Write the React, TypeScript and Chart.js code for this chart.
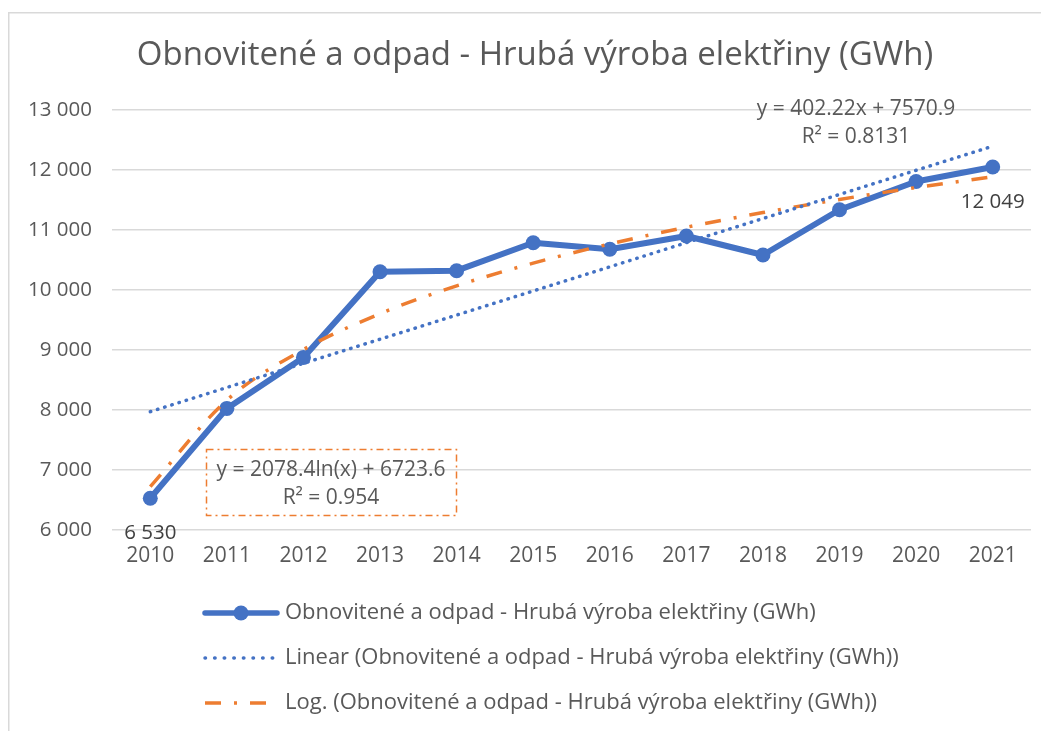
import { useEffect, useRef } from "react";
import { Chart, registerables } from "chart.js";

Chart.register(...registerables);

const years = ["2010", "2011", "2012", "2013", "2014", "2015", "2016", "2017", "2018", "2019", "2020", "2021"];
const production = [6530, 8027, 8877, 10305, 10322, 10788, 10678, 10900, 10583, 11337, 11808, 12049];
const linearTrend = [7973.1, 8375.3, 8777.6, 9179.8, 9582.0, 9984.2, 10386.4, 10788.7, 11190.9, 11593.1, 11995.3, 12397.5];
const logTrend = [6723.6, 8164.2, 9007.0, 9604.9, 10068.7, 10447.6, 10768.0, 11045.5, 11290.3, 11509.3, 11707.4, 11888.2];
const yMin = 6000;
const yMax = 13000;
const yStep = 1000;

const seriesName = "Obnovitené a odpad - Hrubá výroba elektřiny (GWh)";
const titleText = "Obnovitené a odpad - Hrubá výroba elektřiny (GWh)";
const legendLabels = [
  "Obnovitené a odpad - Hrubá výroba elektřiny (GWh)",
  "Linear (Obnovitené a odpad - Hrubá výroba elektřiny (GWh))",
  "Log. (Obnovitené a odpad - Hrubá výroba elektřiny (GWh))",
];
const linearEquation = ["y = 402.22x + 7570.9", "R² = 0.8131"];
const logEquation = ["y = 2078.4ln(x) + 6723.6", "R² = 0.954"];
const labeledPoints = [0, 11];

const BLUE = "#4472C4";
const ORANGE = "#ED7D31";
const TEXT = "#595959";
const GRID = "#D9D9D9";
const FONT = "'Open Sans'";

function fmt(v: number): string {
  return String(Math.round(v)).replace(/\B(?=(\d{3})+(?!\d))/g, " ");
}

const overlay = {
  id: "overlay",
  afterDraw(chart: any) {
    const ctx = chart.ctx as CanvasRenderingContext2D;
    const xs = chart.scales.x;
    const ys = chart.scales.y;
    ctx.save();
    // outer border
    ctx.strokeStyle = GRID;
    ctx.lineWidth = 1.5;
    ctx.beginPath();
    ctx.moveTo(0.75, chart.height);
    ctx.lineTo(0.75, 4.75);
    ctx.lineTo(chart.width, 4.75);
    ctx.stroke();

    // title
    ctx.fillStyle = TEXT;
    ctx.textAlign = "center";
    ctx.textBaseline = "middle";
    ctx.font = `33px ${FONT}`;
    ctx.fillText(titleText, 527, 48);

    // data labels
    ctx.font = `20.5px ${FONT}`;
    ctx.fillStyle = "#404040";
    for (const i of labeledPoints) {
      const px = xs.getPixelForValue(i);
      const py = ys.getPixelForValue(production[i]);
      ctx.fillText(fmt(production[i]), px, py + 35);
    }

    // linear equation
    ctx.fillStyle = TEXT;
    ctx.font = `21px ${FONT}`;
    ctx.fillText(linearEquation[0], 848, 101);
    ctx.fillText(linearEquation[1], 848, 129);

    // log equation box
    ctx.strokeStyle = ORANGE;
    ctx.lineWidth = 1.5;
    ctx.setLineDash([7, 4, 2, 4]);
    ctx.strokeRect(198.5, 441.5, 250, 66);
    ctx.setLineDash([]);
    ctx.fillText(logEquation[0], 323, 462);
    ctx.fillText(logEquation[1], 323, 490);

    // legend
    const rows = [605, 650, 695];
    const x0 = 197;
    const x1 = 269;
    ctx.textAlign = "left";
    ctx.font = `22px ${FONT}`;
    rows.forEach((ry, i) => {
      ctx.save();
      ctx.beginPath();
      if (i === 0) {
        ctx.strokeStyle = BLUE;
        ctx.lineWidth = 5.5;
        ctx.lineCap = "round";
        ctx.moveTo(x0, ry);
        ctx.lineTo(x1, ry);
        ctx.stroke();
        ctx.fillStyle = BLUE;
        ctx.beginPath();
        ctx.arc((x0 + x1) / 2, ry, 7.5, 0, Math.PI * 2);
        ctx.fill();
      } else if (i === 1) {
        ctx.strokeStyle = BLUE;
        ctx.lineWidth = 3.5;
        ctx.lineCap = "round";
        ctx.setLineDash([0.5, 9.1]);
        ctx.moveTo(x0, ry);
        ctx.lineTo(x1, ry);
        ctx.stroke();
      } else {
        ctx.strokeStyle = ORANGE;
        ctx.lineWidth = 3.5;
        ctx.lineCap = "butt";
        ctx.setLineDash([16, 13, 3, 13]);
        ctx.moveTo(x0, ry);
        ctx.lineTo(x1 - 10, ry);
        ctx.stroke();
      }
      ctx.restore();
      ctx.fillStyle = TEXT;
      ctx.textBaseline = "middle";
      ctx.fillText(legendLabels[i], 277, ry);
    });
    ctx.restore();
  },
};

export default function App() {
  const ref = useRef<HTMLCanvasElement | null>(null);
  useEffect(() => {
    if (!ref.current) return;
    const chart = new Chart(ref.current, {
      type: "line",
      data: {
        labels: years,
        datasets: [
          {
            label: legendLabels[1],
            data: linearTrend,
            borderColor: BLUE,
            borderWidth: 3.5,
            borderDash: [0.5, 7],
            borderCapStyle: "round",
            pointRadius: 0,
            fill: false,
            order: 1,
          },
          {
            label: legendLabels[2],
            data: logTrend,
            borderColor: ORANGE,
            borderWidth: 3.5,
            borderDash: [16, 13, 3, 13],
            borderCapStyle: "butt",
            cubicInterpolationMode: "monotone",
            pointRadius: 0,
            fill: false,
            order: 2,
          },
          {
            label: seriesName,
            data: production,
            borderColor: BLUE,
            backgroundColor: BLUE,
            borderWidth: 6,
            borderJoinStyle: "round",
            borderCapStyle: "round",
            pointRadius: 7.5,
            pointBackgroundColor: BLUE,
            pointBorderWidth: 0,
            fill: false,
            order: 3,
          },
        ],
      },
      options: {
        responsive: false,
        animation: false,
        layout: { padding: { top: 102, right: 18, bottom: 156, left: 0 } },
        plugins: {
          legend: { display: false },
          title: { display: false },
          tooltip: { enabled: false },
        },
        scales: {
          x: {
            type: "category",
            offset: true,
            grid: { display: false, drawTicks: false },
            border: { display: false },
            ticks: {
              color: TEXT,
              font: { family: FONT, size: 21 },
              padding: 13,
              maxRotation: 0,
              autoSkip: false,
            },
            afterFit: (s: any) => {
              s.height = 45;
            },
          },
          y: {
            min: yMin,
            max: yMax,
            grid: { color: GRID, lineWidth: 1.5, drawTicks: false },
            border: { display: false },
            ticks: {
              stepSize: yStep,
              color: TEXT,
              font: { family: FONT, size: 20.5 },
              padding: 20,
              callback: (v: any) => fmt(Number(v)),
            },
            afterFit: (s: any) => {
              s.width = 104;
            },
          },
        },
      },
      plugins: [overlay],
    });
    return () => chart.destroy();
  }, []);
  return <canvas ref={ref} width={1041} height={723} style={{ display: "block" }} />;
}
